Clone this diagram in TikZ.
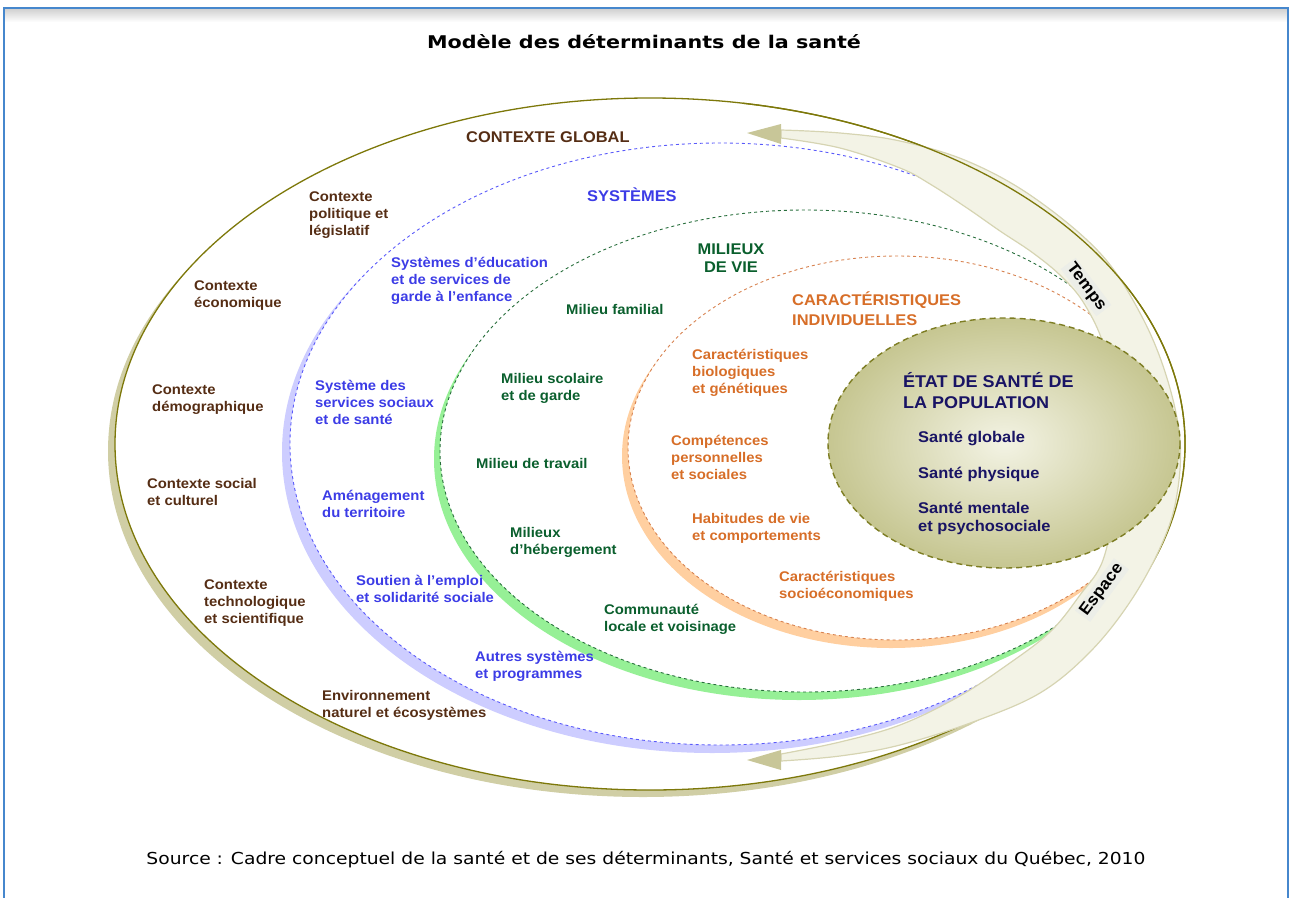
\documentclass[tikz,border=0pt]{standalone}
\usepackage{fontspec}
\usepackage{graphicx}
\setmainfont{Liberation Sans}[FakeStretch=1.06]
\newfontfamily\verd{DejaVu Sans}
\definecolor{frameblue}{RGB}{70,135,205}
\definecolor{olivel}{RGB}{125,120,10}
\definecolor{tanb}{RGB}{208,206,165}
\definecolor{lav}{RGB}{205,205,255}
\definecolor{bluel}{RGB}{90,90,250}
\definecolor{grb}{RGB}{150,240,150}
\definecolor{grl}{RGB}{40,110,60}
\definecolor{orb}{RGB}{255,207,160}
\definecolor{orl}{RGB}{215,130,80}
\definecolor{bandfill}{RGB}{243,243,230}
\definecolor{bandedge}{RGB}{214,212,178}
\definecolor{arrowc}{RGB}{200,198,152}
\definecolor{hlight}{RGB}{243,243,228}
\definecolor{hdark}{RGB}{198,198,145}
\definecolor{hline}{RGB}{125,125,35}
\definecolor{tbrown}{RGB}{85,45,20}
\definecolor{tblue}{RGB}{60,60,230}
\definecolor{tgreen}{RGB}{10,95,45}
\definecolor{torange}{RGB}{215,110,40}
\definecolor{tnavy}{RGB}{25,20,100}
\definecolor{lblbg}{RGB}{236,238,232}
\begin{document}
\begin{tikzpicture}[x=1pt,y=-1pt,
  lab/.style={anchor=west, align=left, inner sep=0pt, font=\fontsize{14}{17}\selectfont\bfseries},
  head/.style={anchor=west, align=left, inner sep=0pt, font=\fontsize{15.5}{20}\selectfont\bfseries},
  hitem/.style={anchor=west, align=left, inner sep=0pt, text=tnavy, font=\fontsize{15.5}{18}\selectfont\bfseries},
  axis/.style={inner sep=2pt, fill=lblbg, text=black, font=\fontsize{16.5}{20}\selectfont\bfseries},
  ringdash/.style={line width=0.9pt, dash pattern=on 3pt off 3pt}]
\useasboundingbox (0,0) rectangle (1290,897);
% frame
\shade[top color=black!18, bottom color=white] (5,9) rectangle (1287,22);
\draw[frameblue, line width=2pt] (4,920) -- (4,8) -- (1288,8) -- (1288,920);
% crescent bands
\begin{scope}
  \clip (643,451) ellipse [x radius=535, y radius=346];
  \fill[tanb, even odd rule] (0,0) rectangle (1290,897) (650,444) ellipse [x radius=535, y radius=346];
\end{scope}
\begin{scope}
  \clip (712,452) ellipse [x radius=430, y radius=301];
  \fill[lav, even odd rule] (0,0) rectangle (1290,897) (720,444) ellipse [x radius=430, y radius=301];
\end{scope}
\begin{scope}
  \clip (799,459) ellipse [x radius=365, y radius=241];
  \fill[grb, even odd rule] (0,0) rectangle (1290,897) (805,451) ellipse [x radius=365, y radius=241];
\end{scope}
\begin{scope}
  \clip (891,456) ellipse [x radius=269, y radius=192];
  \fill[orb, even odd rule] (0,0) rectangle (1290,897) (897,448) ellipse [x radius=269, y radius=192];
\end{scope}
% rings
\draw[olivel, line width=1.3pt] (650,444) ellipse [x radius=535, y radius=346];
\draw[bluel, ringdash] (720,444) ellipse [x radius=430, y radius=301];
\draw[grl, ringdash] (805,451) ellipse [x radius=365, y radius=241];
\draw[orl, ringdash] (897,448) ellipse [x radius=269, y radius=192];
% Temps / Espace band
\fill[bandfill, draw=bandedge, line width=1.2pt]
  plot[smooth, tension=0.6] coordinates {(781,130) (840,133) (900,141) (967,161) (1033,197) (1100,253) (1140,313) (1166,375) (1180,440) (1176,500) (1160,548) (1130,602) (1090,652) (1040,693) (973,722) (900,745) (840,756) (781,761)}
  -- plot[smooth, tension=0.6] coordinates {(781,754) (840,742) (900,725) (958,697) (1007,665) (1050,632) (1080,595) (1103,560) (1114,500) (1116,420) (1105,350) (1085,305) (1062,277) (1033,253) (1000,231) (967,208) (930,184) (900,168) (840,148) (781,138)}
  -- cycle;
\fill[arrowc] (747,133) coordinate (ta) -- (781,124) -- (781,144) -- cycle;
\fill[arrowc] (747,760) coordinate (ea) -- (781,750) -- (781,770) -- cycle;
\draw[olivel, line width=1.3pt] (650,444) ++(-80:535 and 346) arc[start angle=-80, end angle=6, x radius=535, y radius=346];
% health ellipse
\shade[inner color=hlight, outer color=hdark] (1004,443) ellipse [x radius=176, y radius=125];
\draw[hline, line width=1.4pt, dash pattern=on 6pt off 4pt] (1004,443) ellipse [x radius=176, y radius=125];
% title and source
\node[inner sep=0pt, font=\verd\bfseries\fontsize{17.5}{20}\selectfont] (title) at (644,42) {\resizebox{434pt}{\height}{Modèle des déterminants de la santé}};
\node[inner sep=0pt, font=\verd\fontsize{16.5}{18}\selectfont] (source) at (646,860) {\resizebox{999pt}{\height}{Source : Cadre conceptuel de la santé et de ses déterminants, Santé et services sociaux du Québec, 2010}};
% contexte global
\node[head, text=tbrown] (hcg) at (466,137) {CONTEXTE GLOBAL};
\node[lab, text=tbrown] (c1) at (309,215) {Contexte\\politique et\\législatif};
\node[lab, text=tbrown] (c2) at (194,296) {Contexte\\économique};
\node[lab, text=tbrown] (c3) at (152,400) {Contexte\\démographique};
\node[lab, text=tbrown] (c4) at (147,492) {Contexte social\\et culturel};
\node[lab, text=tbrown] (c5) at (204,603) {Contexte\\technologique\\et scientifique};
\node[lab, text=tbrown] (c6) at (322,705) {Environnement\\naturel et écosystèmes};
% systemes
\node[head, text=tblue] (hsy) at (587,195) {SYSTÈMES};
\node[lab, text=tblue] (s1) at (391,281) {Systèmes d’éducation\\et de services de\\garde à l’enfance};
\node[lab, text=tblue] (s2) at (315,402) {Système des\\services sociaux\\et de santé};
\node[lab, text=tblue] (s3) at (322,504) {Aménagement\\du territoire};
\node[lab, text=tblue] (s4) at (356,589) {Soutien à l’emploi\\et solidarité sociale};
\node[lab, text=tblue] (s5) at (475,666) {Autres systèmes\\et programmes};
% milieux de vie
\node[inner sep=0pt, align=center, text=tgreen, font=\fontsize{15.5}{18}\selectfont\bfseries] (hmv) at (731,258) {MILIEUX\\DE VIE};
\node[lab, text=tgreen] (m1) at (566,309) {Milieu familial};
\node[lab, text=tgreen] (m2) at (501,388) {Milieu scolaire\\et de garde};
\node[lab, text=tgreen] (m3) at (476,463) {Milieu de travail};
\node[lab, text=tgreen] (m4) at (510,542) {Milieux\\d’hébergement};
\node[lab, text=tgreen] (m5) at (604,619) {Communauté\\locale et voisinage};
% caracteristiques individuelles
\node[head, text=torange] (hci) at (792,309) {CARACTÉRISTIQUES\\INDIVIDUELLES};
\node[lab, text=torange] (i1) at (692,373) {Caractéristiques\\biologiques\\et génétiques};
\node[lab, text=torange] (i2) at (671,457) {Compétences\\personnelles\\et sociales};
\node[lab, text=torange] (i3) at (692,528) {Habitudes de vie\\et comportements};
\node[lab, text=torange] (i4) at (779,586) {Caractéristiques\\socioéconomiques};
% etat de sante
\node[anchor=west, align=left, inner sep=0pt, text=tnavy, font=\fontsize{17}{21}\selectfont\bfseries] (hes) at (903,391) {ÉTAT DE SANTÉ DE\\LA POPULATION};
\node[hitem] (h1) at (918,438) {Santé globale};
\node[hitem] (h2) at (918,474) {Santé physique};
\node[hitem] (h3) at (918,518) {Santé mentale\\et psychosociale};
% axis labels
\node[axis, rotate=-53] (temps) at (1086,287) {Temps};
\node[axis, rotate=53.5] (espace) at (1102,590) {Espace};
\end{tikzpicture}
\end{document}
